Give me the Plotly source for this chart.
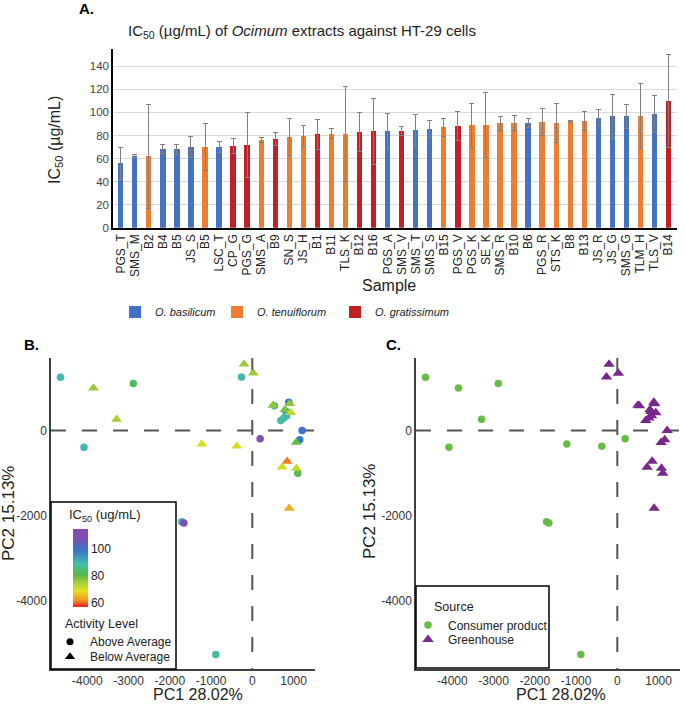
import plotly.graph_objects as go

# ---------------- Data: panel A (bar chart) ----------------
samples = ["PGS_T", "SMS_M", "B2", "B4", "B5", "JS_S", "B5", "LSC_T", "CP_G", "PGS_G",
           "SMS_A", "B9", "SN_S", "JS_H", "B1", "B11", "TLS_K", "B12", "B16", "PGS_A",
           "SMS_V", "SMS_T", "SMS_S", "B15", "PGS_V", "PGS_K", "SE_K", "SMS_R", "B10", "B6",
           "PGS_R", "STS_K", "B8", "B13", "JS_R", "JS_G", "SMS_G", "TLM_H", "TLS_V", "B14"]
species = ["b", "b", "t", "b", "b", "b", "t", "b", "g", "g",
           "t", "g", "t", "t", "g", "t", "t", "g", "g", "b",
           "g", "b", "b", "t", "g", "t", "t", "t", "t", "b",
           "t", "t", "t", "t", "b", "b", "b", "t", "b", "g"]
ic50 = [56, 62, 62, 68, 68, 70, 70, 70, 71, 71.5,
        76, 77, 78.5, 79.5, 81, 81.5, 81.5, 83, 83.5, 84,
        84, 84.5, 85.5, 87, 88, 89, 89, 90.5, 91, 90.5,
        91.5, 91, 92.4, 92.5, 95.5, 96.5, 96.5, 97, 98.5, 110]
ic50_err = [14, 1.5, 45, 4, 4.5, 9, 20, 4.5, 6.5, 28,
            2.5, 6, 16, 9, 13, 4.5, 41, 17, 29, 15,
            4, 14, 7.5, 7.5, 12.5, 19, 28, 6, 6.5, 4,
            11.5, 17, 0.8, 8, 7, 19, 10.5, 28, 16, 40]
species_names = {"b": "O. basilicum", "t": "O. tenuiflorum", "g": "O. gratissimum"}
species_colors = {"b": "#4472C4", "t": "#ED7D31", "g": "#C41F26"}
y_ticks_a = [0, 20, 40, 60, 80, 100, 120, 140]

# ---------------- Data: panels B & C (PCA scores) ----------------
pc1 = [-4650, -3850, -2885, -3290, -4080, -1225, -375, 190, -1715, -1660, -885,
       -200, 25, -262, 500, 535, 885, 905, 790, 818, 935, 690, 765, 830,
       1208, 1150, 1063, 845, 723, 1070, 1103, 893]
pc2 = [1255, 1000, 1105, 262, -393, -320, -370, -195, -2150, -2175, -5270,
       1560, 1350, 1259, 592, 580, 665, 630, 490, 445, 419, 235, 292, 345,
       0, -215, -282, -726, -863, -890, -1004, -1831]
pca_ic50 = [90, 76, 83, 75, 90, 70, 70, 108, 90, 108, 87,
            76, 76, 90, 77, 86, 99, 77, 78, 99, 72, 88, 88, 90,
            99, 98, 80, 61, 71, 72, 82, 64]
activity = ["Above", "Below", "Above", "Below", "Above", "Below", "Below", "Above", "Above", "Above", "Above",
            "Below", "Below", "Above", "Below", "Above", "Above", "Below", "Below", "Above", "Below", "Above", "Above", "Above",
            "Above", "Above", "Below", "Below", "Below", "Below", "Above", "Below"]
source = ["Consumer product"] * 11 + ["Greenhouse"] * 21
pc_ticks_x = [-4000, -3000, -2000, -1000, 0, 1000]
pc_ticks_y = [-4000, -2000, 0]
colorbar_ticks = [60, 80, 100]

# ---------------- Layout helpers ----------------
W, H = 685, 705
FONT = "Arial, 'Liberation Sans', sans-serif"


def px(p):
    return p / W


def py(p):
    return 1 - p / H


fig = go.Figure()

# Panel A bars (each species has its own single-entry legend)
bar_legends = {"b": "legend", "t": "legend6", "g": "legend7"}
for sp in ["b", "t", "g"]:
    idx = [i for i, s in enumerate(species) if s == sp]
    fig.add_trace(go.Bar(
        x=idx, y=[ic50[i] for i in idx],
        error_y=dict(type="data", array=[ic50_err[i] for i in idx],
                     color="#808080", thickness=1, width=2.5),
        marker=dict(color=species_colors[sp], line=dict(width=0)),
        width=0.38, name="<i>" + species_names[sp] + "</i>",
        xaxis="x", yaxis="y", legend=bar_legends[sp], hoverinfo="skip"))

colorscale = [
    [0.0, "#ed1c24"], [0.086, "#f7931e"], [0.207, "#e2e01f"], [0.31, "#a8cf38"],
    [0.414, "#55b848"], [0.552, "#44bfae"], [0.724, "#3b73cc"], [0.879, "#7b4fb5"],
    [1.0, "#8a45b0"]]

# Panel B scatter (colour = IC50, symbol = activity)
for act, sym, size in [("Above", "circle", 7.5), ("Below", "triangle-up", 9.5)]:
    idx = [i for i, a in enumerate(activity) if a == act]
    fig.add_trace(go.Scatter(
        x=[pc1[i] for i in idx], y=[pc2[i] for i in idx], mode="markers",
        marker=dict(symbol=sym, size=size, color=[pca_ic50[i] for i in idx],
                    coloraxis="coloraxis", line=dict(width=0)),
        showlegend=False, xaxis="x2", yaxis="y2", hoverinfo="skip"))

# Legend-only keys for activity level
fig.add_trace(go.Scatter(x=[None], y=[None], mode="markers", name="Above Average",
                         marker=dict(symbol="circle", size=7, color="black"),
                         xaxis="x2", yaxis="y2", legend="legend2"))
fig.add_trace(go.Scatter(x=[None], y=[None], mode="markers", name="Below Average",
                         marker=dict(symbol="triangle-up", size=9, color="black"),
                         xaxis="x2", yaxis="y2", legend="legend3"))

# Panel C scatter (source)
for src, sym, size, col, lg in [("Consumer product", "circle", 7.5, "#66BD45", "legend4"),
                                ("Greenhouse", "triangle-up", 10, "#78288C", "legend5")]:
    idx = [i for i, s in enumerate(source) if s == src]
    fig.add_trace(go.Scatter(
        x=[pc1[i] for i in idx], y=[pc2[i] for i in idx], mode="markers",
        marker=dict(symbol=sym, size=size, color=col, line=dict(width=0)),
        name=src, xaxis="x3", yaxis="y3", legend=lg, hoverinfo="skip"))

XR = [-4880, 1520]
YR = [-5612, 1706]

axis_common_pc = dict(showgrid=False, zeroline=False, showline=True, linecolor="#404040",
                      linewidth=1.5, ticks="", automargin=False,
                      tickfont=dict(size=12, color="#333333", family=FONT))

leg_common = dict(bgcolor="rgba(0,0,0,0)", borderwidth=0, font=dict(size=12, color="#222222", family=FONT),
                  xanchor="left", yanchor="middle", itemclick=False, itemdoubleclick=False)
leg_a = dict(bgcolor="rgba(0,0,0,0)", borderwidth=0, font=dict(size=11, color="#222222", family=FONT),
             xanchor="left", yanchor="middle", itemclick=False, itemdoubleclick=False)

fig.update_layout(
    template="none",
    width=W, height=H,
    margin=dict(l=0, r=0, t=0, b=0),
    paper_bgcolor="white", plot_bgcolor="white",
    font=dict(family=FONT, color="#222222"),
    bargap=0,
    xaxis=dict(domain=[px(113), px(677)], range=[-0.55, 39.6],
               tickmode="array", tickvals=list(range(len(samples))), ticktext=samples,
               tickangle=-90, tickfont=dict(size=12, color="#222222"),
               showline=True, linecolor="black", linewidth=1.5, showgrid=False,
               zeroline=False, ticks="", automargin=False, anchor="y"),
    yaxis=dict(domain=[py(227.7), py(49)], range=[0, 155],
               tickmode="array", tickvals=y_ticks_a,
               tickfont=dict(size=11.5, color="#444444"),
               showline=True, linecolor="black", linewidth=1.5,
               showgrid=True, gridcolor="#D9D9D9", gridwidth=1,
               zeroline=False, ticks="", automargin=False, anchor="x"),
    xaxis2=dict(domain=[px(51), px(315)], range=XR, anchor="y2",
                tickmode="array", tickvals=pc_ticks_x, ticktext=[str(v) for v in pc_ticks_x],
                **axis_common_pc),
    yaxis2=dict(domain=[py(669), py(358)], range=YR, anchor="x2",
                tickmode="array", tickvals=pc_ticks_y, ticktext=[str(v) for v in pc_ticks_y],
                **axis_common_pc),
    xaxis3=dict(domain=[px(416), px(680)], range=XR, anchor="y3",
                tickmode="array", tickvals=pc_ticks_x, ticktext=[str(v) for v in pc_ticks_x],
                **axis_common_pc),
    yaxis3=dict(domain=[py(669), py(358)], range=YR, anchor="x3",
                tickmode="array", tickvals=pc_ticks_y, ticktext=[str(v) for v in pc_ticks_y],
                **axis_common_pc),
    coloraxis=dict(cmin=57, cmax=115, colorscale=colorscale,
                   colorbar=dict(x=px(73), xanchor="left", y=py(607), yanchor="bottom",
                                 len=78, lenmode="pixels", thickness=15, thicknessmode="pixels",
                                 tickmode="array", tickvals=colorbar_ticks, ticks="",
                                 tickfont=dict(size=12, color="#222222", family=FONT),
                                 outlinewidth=0, xpad=0, ypad=0, ticklabelposition="outside")),
    legend=dict(x=px(115), y=py(312), **leg_a),
    legend6=dict(x=px(217), y=py(312), **leg_a),
    legend7=dict(x=px(335), y=py(312), **leg_a),
    legend2=dict(x=px(50), y=py(641.7), **leg_common),
    legend3=dict(x=px(50), y=py(656.7), **leg_common),
    legend4=dict(x=px(408), y=py(625), **leg_common),
    legend5=dict(x=px(408), y=py(639.5), **leg_common),
)

# Dashed reference lines
dash_line = dict(color="#555555", width=2, dash="15px,16px")
shapes = []
for xr, yr in [("x2", "y2"), ("x3", "y3")]:
    shapes.append(dict(type="line", xref=xr, yref=yr, x0=XR[0], x1=XR[1], y0=0, y1=0, line=dash_line, layer="below"))
    shapes.append(dict(type="line", xref=xr, yref=yr, x0=0, x1=0, y0=YR[1], y1=YR[0], line=dash_line, layer="below"))
# Legend boxes
shapes.append(dict(type="rect", xref="paper", yref="paper", x0=px(51), x1=px(176), y0=py(669), y1=py(502),
                   line=dict(color="black", width=1.5), fillcolor="rgba(0,0,0,0)", layer="above"))
shapes.append(dict(type="rect", xref="paper", yref="paper", x0=px(416), x1=px(549), y0=py(668), y1=py(586),
                   line=dict(color="black", width=1.5), fillcolor="rgba(0,0,0,0)", layer="above"))
fig.update_layout(shapes=shapes)


def ann(text, x, y, size, xanchor="center", angle=0, bold=False, color="#222222", yanchor="middle"):
    if bold:
        text = "<b>" + text + "</b>"
    fig.add_annotation(text=text, x=px(x), y=py(y), xref="paper", yref="paper",
                       xanchor=xanchor, yanchor=yanchor, showarrow=False, textangle=angle,
                       font=dict(size=size, color=color, family=FONT))


ann("A.", 77, 8, 15, xanchor="left", bold=True, color="black")
ann("IC<sub>50</sub> (µg/mL) of <i>Ocimum</i> extracts against HT-29 cells", 302, 32, 15)
ann("IC<sub>50</sub> (µg/mL)", 55, 140, 16, angle=-90)
ann("Sample", 389, 286, 16)
ann("B.", 22, 345, 15, xanchor="left", bold=True, color="black")
ann("C.", 384, 345, 15, xanchor="left", bold=True, color="black")
ann("PC2 15.13%", 8, 514, 17, angle=-90)
ann("PC2 15.13%", 369, 512, 17, angle=-90)
ann("PC1 28.02%", 198, 705, 16, yanchor="bottom")
ann("PC1 28.02%", 561, 705, 16, yanchor="bottom")
ann("IC<sub>50</sub> (ug/mL)", 105, 515, 13)
ann("Activity Level", 63, 624, 12.5, xanchor="left")
ann("Source", 432, 607, 12.5, xanchor="left")

fig.write_html("out.html")
